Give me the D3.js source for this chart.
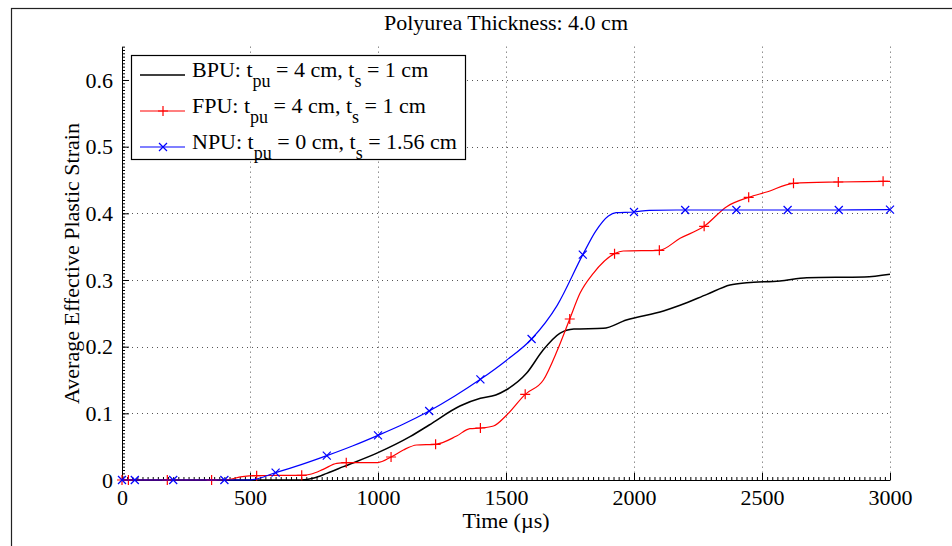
<!DOCTYPE html>
<html>
<head>
<meta charset="utf-8">
<script src="https://cdn.jsdelivr.net/npm/d3@7"></script>
<style>
  body { margin: 0; background: #fff; }
  svg { display: block; font-family: "Liberation Serif", "Times New Roman", serif; }
  .grid line { stroke: #555; stroke-width: 1; stroke-dasharray: 1,4; }
  .axis path, .axis line { stroke: #000; }
  .axis text { font-size: 22px; fill: #000; font-family: "Liberation Serif", "Times New Roman", serif; }
</style>
</head>
<body>
<svg id="chart" width="952" height="546"></svg>
<script>
// ---- data ----
const xTicks = [0, 500, 1000, 1500, 2000, 2500, 3000];
const xTickLabels = ["0", "500", "1000", "1500", "2000", "2500", "3000"];
const yTicks = [0, 0.1, 0.2, 0.3, 0.4, 0.5, 0.6];
const yTickLabels = ["0", "0.1", "0.2", "0.3", "0.4", "0.5", "0.6"];

// BPU (black, no markers)
const bpuT = [0, 500, 700, 750, 800, 865, 1000, 1125, 1200, 1320, 1400, 1460, 1500, 1580, 1645, 1710,
              1765, 1880, 1970, 2115, 2180, 2285, 2375, 2440, 2570, 2675, 2900, 3000];
const bpuV = [0, 0, 0, 0.003, 0.010, 0.020, 0.041, 0.065, 0.0825, 0.111, 0.1225, 0.1275, 0.135, 0.160, 0.195, 0.220,
              0.2265, 0.2275, 0.240, 0.2535, 0.262, 0.2785, 0.2925, 0.296, 0.2985, 0.3035, 0.3045, 0.3085];

// FPU (red, plus markers)
const fpuT = [0, 25, 177, 350, 400, 470, 526, 600, 702, 740, 786, 839, 876, 1000, 1051, 1099, 1151, 1225,
              1307, 1359, 1400, 1451, 1503, 1575, 1646, 1701, 1749, 1789, 1841, 1924, 1958, 2099, 2180,
              2274, 2362, 2448, 2518, 2623, 2798, 2973, 3000];
const fpuV = [0, 0, 0, 0, 0, 0.005, 0.0065, 0.0068, 0.007, 0.009, 0.016, 0.025, 0.026, 0.0262, 0.0345, 0.045, 0.0525, 0.0535,
              0.066, 0.077, 0.078, 0.081, 0.0975, 0.1285, 0.150, 0.195, 0.2415, 0.280, 0.310, 0.3395, 0.3435, 0.3445, 0.3625,
              0.3805, 0.410, 0.424, 0.432, 0.445, 0.447, 0.448, 0.448];
const fpuMarkT = [0, 25, 177, 350, 526, 702, 876, 1051, 1225, 1400, 1575, 1749, 1924, 2099, 2274, 2448, 2623, 2798, 2973];

// NPU (blue, x markers)
const npuT = [0, 50, 200, 400, 500, 600, 700, 800, 900, 1000, 1100, 1200, 1300, 1400, 1500, 1600, 1700,
              1800, 1850, 1900, 1930, 2000, 2060, 2200, 2400, 2600, 2800, 3000];
const npuV = [0, 0, 0, 0, 0, 0.011, 0.023, 0.0365, 0.051, 0.067, 0.084, 0.1035, 0.126, 0.151, 0.179, 0.2115, 0.262,
              0.338, 0.373, 0.396, 0.401, 0.402, 0.4045, 0.405, 0.405, 0.405, 0.405, 0.4055];
const npuMarkT = [0, 50, 200, 400, 600, 800, 1000, 1200, 1400, 1600, 1800, 2000, 2200, 2400, 2600, 2800, 3000];

const series = [
  { name: "BPU", tpu: "4", ts: "1", t: bpuT, v: bpuV, marks: [], color: "#000000", width: 1.5, marker: null },
  { name: "FPU", tpu: "4", ts: "1", t: fpuT, v: fpuV, marks: fpuMarkT, color: "#ff0000", width: 1.2, marker: "plus" },
  { name: "NPU", tpu: "0", ts: "1.56", t: npuT, v: npuV, marks: npuMarkT, color: "#0000ff", width: 1.2, marker: "cross" }
];

// ---- layout ----
const svg = d3.select("#chart");
const plotLeft = 122, plotRight = 890, plotBottom = 480, plotTop = 47;

const x = d3.scaleLinear().domain([0, 3000]).range([plotLeft, plotRight]);
const y = d3.scaleLinear().domain([0, 0.65]).range([plotBottom, plotBottom - 0.65 * 666.7]);

// figure frame
svg.append("rect")
  .attr("x", 11.5).attr("y", 8.5).attr("width", 1000).attr("height", 600)
  .attr("fill", "none").attr("stroke", "#222").attr("stroke-width", 1.2);

// dotted grid
const grid = svg.append("g").attr("class", "grid");
grid.selectAll(".gx").data(xTicks.slice(1)).join("line")
  .attr("x1", d => x(d) + 0.5).attr("x2", d => x(d) + 0.5)
  .attr("y1", y(0.65)).attr("y2", plotBottom);
grid.selectAll(".gy").data(yTicks.slice(1)).join("line")
  .attr("x1", plotLeft).attr("x2", plotRight)
  .attr("y1", d => Math.round(y(d)) + 0.5).attr("y2", d => Math.round(y(d)) + 0.5);

// minor ticks
svg.append("g").attr("class", "axis")
  .attr("transform", `translate(0,${plotBottom})`)
  .call(d3.axisBottom(x).tickValues(d3.range(0, 3001, 20)).tickSize(-3).tickFormat(""))
  .call(g => g.select(".domain").remove());
svg.append("g").attr("class", "axis")
  .attr("transform", `translate(${plotLeft},0)`)
  .call(d3.axisLeft(y).tickValues(d3.range(0, 0.651, 0.005)).tickSize(-3).tickFormat(""))
  .call(g => g.select(".domain").remove());

// major axes
svg.append("g").attr("class", "axis")
  .attr("transform", `translate(0,${plotBottom})`)
  .call(d3.axisBottom(x).tickValues(xTicks).tickSize(-7).tickSizeOuter(0).tickPadding(9)
    .tickFormat((d, i) => xTickLabels[i]));
svg.append("g").attr("class", "axis")
  .attr("transform", `translate(${plotLeft},0)`)
  .call(d3.axisLeft(y).tickValues(yTicks).tickSize(-7).tickSizeOuter(0).tickPadding(9)
    .tickFormat((d, i) => yTickLabels[i]));

// curves
const line = d3.line().x(d => x(d[0])).y(d => y(d[1])).curve(d3.curveMonotoneX);
const plot = svg.append("g");

function drawMarker(g, kind, cx, cy, color) {
  const s = kind === "plus" ? 5 : 4;
  const p = kind === "plus"
    ? `M${cx - s},${cy}H${cx + s}M${cx},${cy - s}V${cy + s}`
    : `M${cx - s},${cy - s}L${cx + s},${cy + s}M${cx - s},${cy + s}L${cx + s},${cy - s}`;
  g.append("path").attr("d", p).attr("stroke", color).attr("stroke-width", 1.2).attr("fill", "none");
}

series.forEach(s => {
  const pts = s.t.map((t, i) => [t, s.v[i]]);
  plot.append("path").datum(pts)
    .attr("d", line)
    .attr("fill", "none").attr("stroke", s.color).attr("stroke-width", s.width);
  s.marks.forEach(t => {
    const v = s.v[s.t.indexOf(t)];
    drawMarker(plot, s.marker, x(t), y(v), s.color);
  });
});

// title and axis labels
svg.append("text").attr("x", (plotLeft + plotRight) / 2).attr("y", 30)
  .attr("text-anchor", "middle").attr("font-size", 22).text("Polyurea Thickness: 4.0 cm");
svg.append("text").attr("x", (plotLeft + plotRight) / 2).attr("y", 528)
  .attr("text-anchor", "middle").attr("font-size", 22).text("Time (\u00b5s)");
svg.append("text")
  .attr("transform", `translate(79,${(plotTop + plotBottom) / 2}) rotate(-90)`)
  .attr("text-anchor", "middle").attr("font-size", 22).text("Average Effective Plastic Strain");

// legend
const legend = svg.append("g");
legend.append("rect").attr("x", 131.5).attr("y", 55.5).attr("width", 334).attr("height", 104)
  .attr("fill", "#fff").attr("stroke", "#000").attr("stroke-width", 1.2);

series.forEach((s, i) => {
  const base = 77 + i * 36;
  legend.append("line").attr("x1", 140).attr("x2", 185)
    .attr("y1", base - 2).attr("y2", base - 2)
    .attr("stroke", s.color).attr("stroke-width", s.width);
  if (s.marker) drawMarker(legend, s.marker, 163, base - 2, s.color);
  const txt = legend.append("text").attr("x", 192).attr("y", base).attr("font-size", 22);
  txt.append("tspan").text(`${s.name}: t`);
  txt.append("tspan").attr("dy", 10).attr("font-size", 18).text("pu");
  txt.append("tspan").attr("dy", -10).text(` = ${s.tpu} cm, t`);
  txt.append("tspan").attr("dy", 10).attr("font-size", 18).text("s");
  txt.append("tspan").attr("dy", -10).text(` = ${s.ts} cm`);
});
</script>
</body>
</html>
